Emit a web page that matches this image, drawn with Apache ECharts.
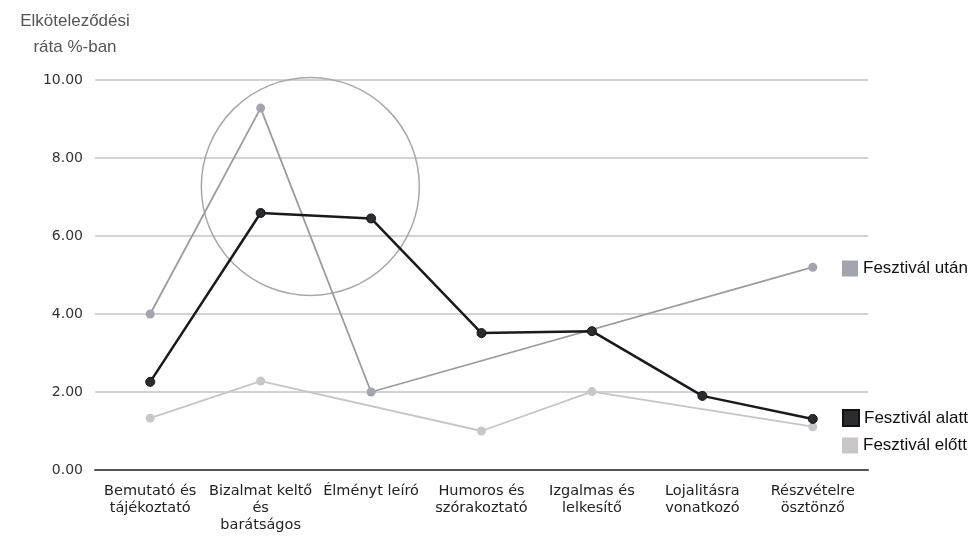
<!DOCTYPE html>
<html>
<head>
<meta charset="utf-8">
<script src="https://cdn.jsdelivr.net/npm/echarts@6/dist/echarts.min.js"></script>
<style>
  html, body { margin: 0; padding: 0; background: #fff; }
  #chart { width: 973px; height: 539px; }
</style>
</head>
<body>
<div id="chart"></div>
<script>
// Message categories on the x axis
const categories = [
  'Bemutató és\ntájékoztató',
  'Bizalmat keltő\nés\nbarátságos',
  'Élményt leíró',
  'Humoros és\nszórakoztató',
  'Izgalmas és\nlelkesítő',
  'Lojalitásra\nvonatkozó',
  'Részvételre\nösztönző'
];

// Engagement rate (%) per phase; null = no measurement for that category
const utan  = [4.00, 9.28, 2.00, null, null, null, 5.20];   // Fesztivál után
const alatt = [2.26, 6.59, 6.45, 3.51, 3.56, 1.90, 1.31];   // Fesztivál alatt
const elott = [1.33, 2.28, null, 1.00, 2.01, null, 1.11];   // Fesztivál előtt

const yTicks = { min: 0, max: 10, interval: 2 };

const FONT = "'DejaVu Sans', 'Noto Sans', sans-serif";
const LEG_FONT = "'Liberation Sans', Arial, sans-serif";

const chart = echarts.init(document.getElementById('chart'), null, { renderer: 'canvas' });

function legendFor(name, top) {
  return {
    data: [name],
    left: 837,
    top: top,
    orient: 'vertical',
    icon: 'rect',
    itemWidth: 16,
    itemHeight: 16,
    itemGap: 0,
    selectedMode: false,
    textStyle: { fontFamily: LEG_FONT, fontSize: 17, color: '#111' }
  };
}

const option = {
  animation: false,
  backgroundColor: '#ffffff',
  title: {
    text: 'Elköteleződési\nráta %-ban',
    left: 70,
    top: 3,
    textAlign: 'center',
    textStyle: {
      fontFamily: LEG_FONT,
      fontSize: 17,
      fontWeight: 'normal',
      color: '#555',
      lineHeight: 26,
      align: 'center'
    }
  },
  legend: [
    legendFor('Fesztivál után', 255),
    legendFor('Fesztivál alatt', 404),
    legendFor('Fesztivál előtt', 432)
  ],
  grid: { left: 95, right: 105, top: 80, bottom: 69, containLabel: false },
  xAxis: {
    type: 'category',
    data: categories,
    boundaryGap: true,
    axisLine: { show: true, lineStyle: { color: '#555', width: 2 } },
    axisTick: { show: false },
    axisLabel: {
      interval: 0,
      margin: 13,
      fontFamily: FONT,
      fontSize: 14.5,
      lineHeight: 17,
      color: '#222'
    }
  },
  yAxis: {
    type: 'value',
    min: yTicks.min,
    max: yTicks.max,
    interval: yTicks.interval,
    axisLine: { show: false },
    axisTick: { show: false },
    splitLine: { lineStyle: { color: '#c4c4c4', width: 1.5 } },
    axisLabel: {
      margin: 12,
      fontFamily: FONT,
      fontSize: 14,
      color: '#333',
      formatter: v => v.toFixed(2)
    }
  },
  series: [
    {
      name: 'Fesztivál után',
      type: 'line',
      data: utan,
      connectNulls: true,
      symbol: 'circle',
      symbolSize: 9,
      z: 2,
      lineStyle: { color: '#9c9c9c', width: 1.8 },
      itemStyle: { color: '#a2a5ae' }
    },
    {
      name: 'Fesztivál alatt',
      type: 'line',
      data: alatt,
      connectNulls: true,
      symbol: 'circle',
      symbolSize: 9,
      z: 4,
      lineStyle: { color: '#1a1a1a', width: 2.5 },
      itemStyle: { color: '#2b2b30', borderColor: '#111', borderWidth: 1 }
    },
    {
      name: 'Fesztivál előtt',
      type: 'line',
      data: elott,
      connectNulls: true,
      symbol: 'circle',
      symbolSize: 9,
      z: 3,
      lineStyle: { color: '#c6c6c6', width: 1.8 },
      itemStyle: { color: '#c9c6c8' }
    }
  ]
};

chart.setOption(option);

// Highlight circle around the "Bizalmat keltő" / "Élményt leíró" peak
const pA = chart.convertToPixel({ gridIndex: 0 }, [1, 7.27]);
const pB = chart.convertToPixel({ gridIndex: 0 }, [2, 7.27]);
const cx = pA[0] + 0.45 * (pB[0] - pA[0]);
chart.setOption({
  graphic: [{
    type: 'circle',
    shape: { cx: cx, cy: pA[1], r: 109 },
    style: { fill: 'none', stroke: '#a8a8a8', lineWidth: 1.5 },
    z: 1,
    silent: true
  }]
});
</script>
</body>
</html>
